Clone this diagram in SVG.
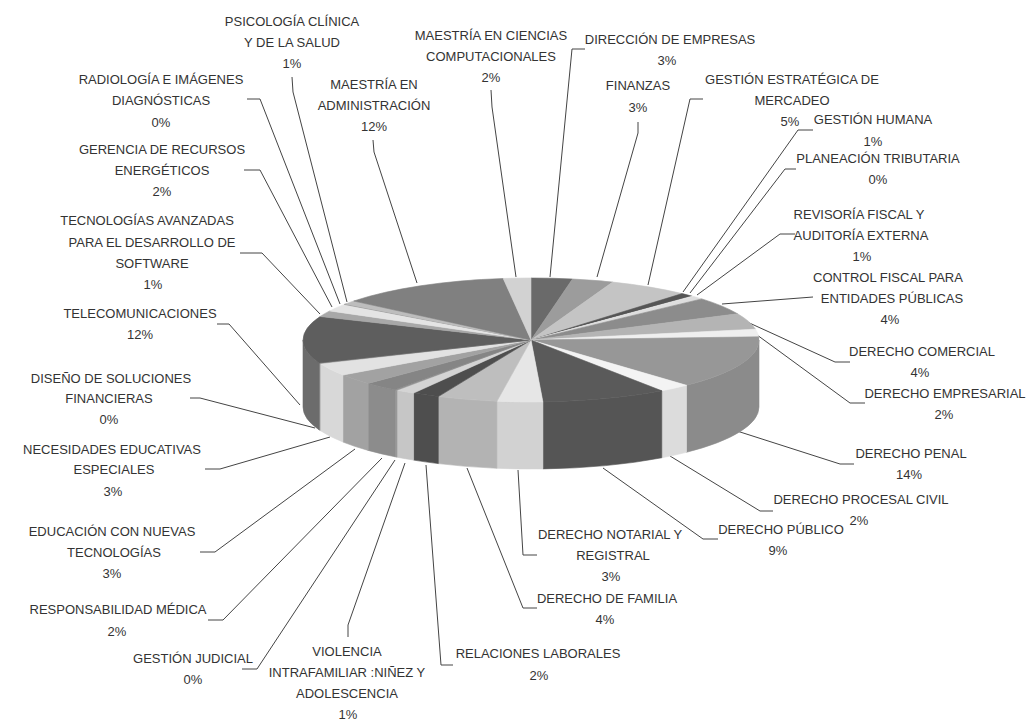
<svg xmlns="http://www.w3.org/2000/svg" width="1036" height="720" viewBox="0 0 1036 720">
<style>
.t{font-family:"Liberation Sans",Arial,sans-serif;font-size:13px;fill:#333;text-anchor:middle}
.ln{fill:none;stroke:#444;stroke-width:1}
path.s{stroke-width:0.6;stroke-linejoin:round}
.g30{fill:#4e4e4e;stroke:#4e4e4e}.g34{fill:#555;stroke:#555}.g35{fill:#5a5a5a;stroke:#5a5a5a}.g37{fill:#5e5e5e;stroke:#5e5e5e}
.g41{fill:#6a6a6a;stroke:#6a6a6a}.g42{fill:#6c6c6c;stroke:#6c6c6c}.g50{fill:#808080;stroke:#808080}.g52{fill:#858585;stroke:#858585}
.g54{fill:#8b8b8b;stroke:#8b8b8b}.g55{fill:#8c8c8c;stroke:#8c8c8c}.g59{fill:#979797;stroke:#979797}.g60{fill:#999;stroke:#999}
.g61{fill:#9c9c9c;stroke:#9c9c9c}.g63{fill:#a2a2a2;stroke:#a2a2a2}.g66{fill:#a8a8a8;stroke:#a8a8a8}.g70{fill:#b3b3b3;stroke:#b3b3b3}
.g71{fill:#b4b4b4;stroke:#b4b4b4}.g74{fill:#bdbdbd;stroke:#bdbdbd}.g75{fill:#bebebe;stroke:#bebebe}.g77{fill:#c4c4c4;stroke:#c4c4c4}
.g78{fill:#c6c6c6;stroke:#c6c6c6}.g82{fill:#d2d2d2;stroke:#d2d2d2}.g83{fill:#d4d4d4;stroke:#d4d4d4}.g85{fill:#d8d8d8;stroke:#d8d8d8}
.g86{fill:#dcdcdc;stroke:#dcdcdc}.g87{fill:#dedede;stroke:#dedede}.g88{fill:#e2e2e2;stroke:#e2e2e2}.g89{fill:#e4e4e4;stroke:#e4e4e4}
.g90{fill:#e6e6e6;stroke:#e6e6e6}.g94{fill:#efefef;stroke:#efefef}.g95{fill:#f3f3f3;stroke:#f3f3f3}
</style>
<rect width="1036" height="720" fill="#fff"/>

<g id="connectors">
<polyline class="ln" points="491,90 492,107 516,277"/>
<polyline class="ln" points="585,49 572,49 550,277"/>
<polyline class="ln" points="638,122 638,133 597,277"/>
<polyline class="ln" points="703,99 690,99 648,285"/>
<polyline class="ln" points="813,130 798,130 683,292"/>
<polyline class="ln" points="796,169 785,169 690,293"/>
<polyline class="ln" points="795,234 780,234 697,295"/>
<polyline class="ln" points="813,297 722,304"/>
<polyline class="ln" points="850,362 835,362 745,321"/>
<polyline class="ln" points="865,403 850,403 753,332"/>
<polyline class="ln" points="854,464 840,464 737,431"/>
<polyline class="ln" points="773,511 760,511 670,456"/>
<polyline class="ln" points="718,539 703,539 603,468"/>
<polyline class="ln" points="537,555 523,555 518,470"/>
<polyline class="ln" points="537,608 523,608 467,468"/>
<polyline class="ln" points="453,665 441,665 426,465"/>
<polyline class="ln" points="348,637 348,625 405,463"/>
<polyline class="ln" points="242,669 257,669 395,460"/>
<polyline class="ln" points="208,620 223,620 382,458"/>
<polyline class="ln" points="200,552 215,552 355,449"/>
<polyline class="ln" points="205,469 220,469 330,437"/>
<polyline class="ln" points="190,398 200,398 315,428"/>
<polyline class="ln" points="217,324 229,324 300,405"/>
<polyline class="ln" points="240,253 262,253 320,314"/>
<polyline class="ln" points="244,170 260,170 332,307"/>
<polyline class="ln" points="247,99 260,99 340,304"/>
<polyline class="ln" points="292,77 293,92 347,302"/>
<polyline class="ln" points="373,140 374,152 417,283"/>
</g>

<g id="direccion-empresas">
<path class="s g41" d="M531,340 L531,278 A228,62 0 0 1 572.5,279 Z"/>
<text class="t" x="670" y="44">DIRECCIÓN DE EMPRESAS</text>
<text class="t" x="667" y="65">3%</text>
</g>
<g id="finanzas">
<path class="s g61" d="M531,340 L572.5,279 A228,62 0 0 1 612.7,282.1 Z"/>
<text class="t" x="638" y="90">FINANZAS</text>
<text class="t" x="638" y="112">3%</text>
</g>
<g id="gestion-estrategica">
<path class="s g77" d="M531,340 L612.7,282.1 A228,62 0 0 1 682.1,293.6 Z"/>
<text class="t" x="792" y="84">GESTIÓN ESTRATÉGICA DE</text>
<text class="t" x="792" y="105">MERCADEO</text>
<text class="t" x="790" y="126">5%</text>
</g>
<g id="gestion-humana">
<path class="s g34" d="M531,340 L682.1,293.6 A228,62 0 0 1 692.2,296.2 Z"/>
<text class="t" x="873" y="124">GESTIÓN HUMANA</text>
<text class="t" x="873" y="146">1%</text>
</g>
<g id="planeacion-tributaria">
<path class="s g94" d="M531,340 L692.2,296.2 A228,62 0 0 1 693.9,296.6 Z"/>
<text class="t" x="878" y="163">PLANEACIÓN TRIBUTARIA</text>
<text class="t" x="878" y="184">0%</text>
</g>
<g id="revisoria-fiscal">
<path class="s g87" d="M531,340 L693.9,296.6 A228,62 0 0 1 701.8,298.9 Z"/>
<text class="t" x="859" y="219">REVISORÍA FISCAL Y</text>
<text class="t" x="861" y="240">AUDITORÍA EXTERNA</text>
<text class="t" x="862" y="261">1%</text>
</g>
<g id="control-fiscal">
<path class="s g55" d="M531,340 L701.8,298.9 A228,62 0 0 1 737.6,313.8 Z"/>
<text class="t" x="888" y="282">CONTROL FISCAL PARA</text>
<text class="t" x="892" y="303">ENTIDADES PÚBLICAS</text>
<text class="t" x="890" y="324">4%</text>
</g>
<g id="derecho-comercial">
<path class="s g71" d="M531,340 L737.6,313.8 A228,62 0 0 1 755.5,329.2 Z"/>
<text class="t" x="922" y="356">DERECHO COMERCIAL</text>
<text class="t" x="920" y="377">4%</text>
</g>
<g id="derecho-empresarial">
<path class="s g94" d="M531,340 L755.5,329.2 A228,62 0 0 1 758.7,336.8 Z"/>
<text class="t" x="945" y="398">DERECHO EMPRESARIAL</text>
<text class="t" x="944" y="419">2%</text>
</g>
<g id="derecho-penal">
<path class="s g54" d="M759,340 A228,62 0 0 1 686.5,385.3 L686.5,452.3 A228,62 0 0 0 759,407 Z"/>
<path class="s g59" d="M531,340 L758.7,336.8 A228,62 0 0 1 686.5,385.3 Z"/>
<text class="t" x="911" y="458">DERECHO PENAL</text>
<text class="t" x="909" y="479">14%</text>
</g>
<g id="derecho-procesal-civil">
<path class="s g86" d="M686.5,385.3 A228,62 0 0 1 661.8,390.8 L661.8,457.8 A228,62 0 0 0 686.5,452.3 Z"/>
<path class="s g95" d="M531,340 L686.5,385.3 A228,62 0 0 1 661.8,390.8 Z"/>
<text class="t" x="861" y="504">DERECHO PROCESAL CIVIL</text>
<text class="t" x="859" y="525">2%</text>
</g>
<g id="derecho-publico">
<path class="s g34" d="M661.8,390.8 A228,62 0 0 1 542.9,401.9 L542.9,468.9 A228,62 0 0 0 661.8,457.8 Z"/>
<path class="s g35" d="M531,340 L661.8,390.8 A228,62 0 0 1 542.9,401.9 Z"/>
<text class="t" x="781" y="534">DERECHO PÚBLICO</text>
<text class="t" x="778" y="555">9%</text>
</g>
<g id="derecho-notarial">
<path class="s g82" d="M542.9,401.9 A228,62 0 0 1 496.9,401.3 L496.9,468.3 A228,62 0 0 0 542.9,468.9 Z"/>
<path class="s g90" d="M531,340 L542.9,401.9 A228,62 0 0 1 496.9,401.3 Z"/>
<text class="t" x="610" y="539">DERECHO NOTARIAL Y</text>
<text class="t" x="613" y="560">REGISTRAL</text>
<text class="t" x="611" y="581">3%</text>
</g>
<g id="derecho-familia">
<path class="s g70" d="M496.9,401.3 A228,62 0 0 1 438.3,396.6 L438.3,463.6 A228,62 0 0 0 496.9,468.3 Z"/>
<path class="s g75" d="M531,340 L496.9,401.3 A228,62 0 0 1 438.3,396.6 Z"/>
<text class="t" x="607" y="603">DERECHO DE FAMILIA</text>
<text class="t" x="605" y="624">4%</text>
</g>
<g id="relaciones-laborales">
<path class="s g30" d="M438.3,396.6 A228,62 0 0 1 413.6,393.1 L413.6,460.1 A228,62 0 0 0 438.3,463.6 Z"/>
<path class="s g30" d="M531,340 L438.3,396.6 A228,62 0 0 1 413.6,393.1 Z"/>
<text class="t" x="538" y="658">RELACIONES LABORALES</text>
<text class="t" x="539" y="680">2%</text>
</g>
<g id="violencia-intrafamiliar">
<path class="s g78" d="M413.6,393.1 A228,62 0 0 1 397,390.2 L397,457.2 A228,62 0 0 0 413.6,460.1 Z"/>
<path class="s g83" d="M531,340 L413.6,393.1 A228,62 0 0 1 397,390.2 Z"/>
<text class="t" x="347" y="656">VIOLENCIA</text>
<text class="t" x="347" y="677">INTRAFAMILIAR :NIÑEZ Y</text>
<text class="t" x="347" y="698">ADOLESCENCIA</text>
<text class="t" x="348" y="719">1%</text>
</g>
<g id="gestion-judicial">
<path class="s g60" d="M397,390.2 A228,62 0 0 1 395.1,389.8 L395.1,456.8 A228,62 0 0 0 397,457.2 Z"/>
<path class="s g60" d="M531,340 L397,390.2 A228,62 0 0 1 395.1,389.8 Z"/>
<text class="t" x="193" y="663">GESTIÓN JUDICIAL</text>
<text class="t" x="193" y="684">0%</text>
</g>
<g id="responsabilidad-medica">
<path class="s g55" d="M395.1,389.8 A228,62 0 0 1 368.1,383.4 L368.1,450.4 A228,62 0 0 0 395.1,456.8 Z"/>
<path class="s g52" d="M531,340 L395.1,389.8 A228,62 0 0 1 368.1,383.4 Z"/>
<text class="t" x="118" y="614">RESPONSABILIDAD MÉDICA</text>
<text class="t" x="117" y="636">2%</text>
</g>
<g id="educacion-nuevas-tecnologias">
<path class="s g63" d="M368.1,383.4 A228,62 0 0 1 342.9,375 L342.9,442 A228,62 0 0 0 368.1,450.4 Z"/>
<path class="s g63" d="M531,340 L368.1,383.4 A228,62 0 0 1 342.9,375 Z"/>
<text class="t" x="112" y="536">EDUCACIÓN CON NUEVAS</text>
<text class="t" x="114" y="557">TECNOLOGÍAS</text>
<text class="t" x="112" y="578">3%</text>
</g>
<g id="necesidades-educativas">
<path class="s g85" d="M342.9,375 A228,62 0 0 1 320.1,363.5 L320.1,430.5 A228,62 0 0 0 342.9,442 Z"/>
<path class="s g88" d="M531,340 L342.9,375 A228,62 0 0 1 320.1,363.5 Z"/>
<text class="t" x="112" y="454">NECESIDADES EDUCATIVAS</text>
<text class="t" x="114" y="474">ESPECIALES</text>
<text class="t" x="113" y="496">3%</text>
</g>
<g id="diseno-soluciones">
<path class="s g60" d="M320.1,363.5 A228,62 0 0 1 319.2,362.9 L319.2,429.9 A228,62 0 0 0 320.1,430.5 Z"/>
<path class="s g60" d="M531,340 L320.1,363.5 A228,62 0 0 1 319.2,362.9 Z"/>
<text class="t" x="111" y="383">DISEÑO DE SOLUCIONES</text>
<text class="t" x="109" y="403">FINANCIERAS</text>
<text class="t" x="109" y="424">0%</text>
</g>
<g id="telecomunicaciones">
<path class="s g42" d="M319.2,362.9 A228,62 0 0 1 303,340 L303,407 A228,62 0 0 0 319.2,429.9 Z"/>
<path class="s g37" d="M531,340 L319.2,362.9 A228,62 0 0 1 320.1,316.5 Z"/>
<text class="t" x="140" y="318">TELECOMUNICACIONES</text>
<text class="t" x="140" y="339">12%</text>
</g>
<g id="tecnologias-avanzadas">
<path class="s g66" d="M531,340 L320.1,316.5 A228,62 0 0 1 329.7,310.9 Z"/>
<text class="t" x="147" y="225">TECNOLOGÍAS AVANZADAS</text>
<text class="t" x="152" y="247">PARA EL DESARROLLO DE</text>
<text class="t" x="152" y="268">SOFTWARE</text>
<text class="t" x="153" y="289">1%</text>
</g>
<g id="gerencia-recursos-energeticos">
<path class="s g89" d="M531,340 L329.7,310.9 A228,62 0 0 1 344.2,304.4 Z"/>
<text class="t" x="162" y="154">GERENCIA DE RECURSOS</text>
<text class="t" x="162" y="175">ENERGÉTICOS</text>
<text class="t" x="162" y="196">2%</text>
</g>
<g id="radiologia">
<path class="s g60" d="M531,340 L344.2,304.4 A228,62 0 0 1 345.6,303.9 Z"/>
<text class="t" x="161" y="84">RADIOLOGÍA E IMÁGENES</text>
<text class="t" x="161" y="105">DIAGNÓSTICAS</text>
<text class="t" x="161" y="127">0%</text>
</g>
<g id="psicologia-clinica">
<path class="s g74" d="M531,340 L345.6,303.9 A228,62 0 0 1 353.8,301 Z"/>
<text class="t" x="292" y="26">PSICOLOGÍA CLÍNICA</text>
<text class="t" x="292" y="47">Y DE LA SALUD</text>
<text class="t" x="292" y="68">1%</text>
</g>
<g id="maestria-administracion">
<path class="s g50" d="M531,340 L353.8,301 A228,62 0 0 1 503.2,278.5 Z"/>
<text class="t" x="374" y="89">MAESTRÍA EN</text>
<text class="t" x="374" y="110">ADMINISTRACIÓN</text>
<text class="t" x="374" y="131">12%</text>
</g>
<g id="maestria-ciencias-computacionales">
<path class="s g82" d="M531,340 L503.2,278.5 A228,62 0 0 1 531,278 Z"/>
<text class="t" x="491" y="40">MAESTRÍA EN CIENCIAS</text>
<text class="t" x="491" y="61">COMPUTACIONALES</text>
<text class="t" x="491" y="82">2%</text>
</g>
</svg>
